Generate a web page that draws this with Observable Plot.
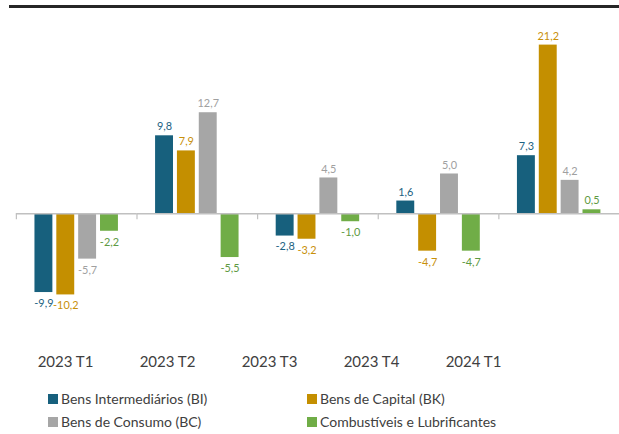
<!DOCTYPE html>
<html>
<head>
<meta charset="utf-8">
<script src="https://cdn.jsdelivr.net/npm/d3@7"></script>
<script src="https://cdn.jsdelivr.net/npm/@observablehq/plot@0.6"></script>
<style>
  html, body { margin: 0; padding: 0; background: #fff; overflow: hidden; width: 619px; height: 434px; }
  body { position: relative; font-family: Lato, "Open Sans", sans-serif; }
  #topline { position: absolute; left: 9px; top: 5px; width: 610px; height: 3px; background: #262626; }
  #chart { position: absolute; left: 0; top: 0; }
  #cats { position: absolute; left: 0; top: 342px; }
  #legend { position: absolute; left: 0; top: 386px; width: 619px; height: 46px; }
  .item { position: absolute; display: flex; align-items: center; font-size: 14px; color: #404040; white-space: nowrap; }
  .sw { width: 10px; height: 10px; margin-right: 3px; }
</style>
</head>
<body>
<div id="topline"></div>
<div id="chart"></div>
<div id="cats"></div>
<div id="legend"></div>
<script>
const groups = ["2023 T1", "2023 T2", "2023 T3", "2023 T4", "2024 T1"];
const series = ["Bens Intermediários (BI)", "Bens de Capital (BK)", "Bens de Consumo (BC)", "Combustíveis e Lubrificantes"];
const valuesBI = [-9.9, 9.8, -2.8, 1.6, 7.3];
const valuesBK = [-10.2, 7.9, -3.2, -4.7, 21.2];
const valuesBC = [-5.7, 12.7, 4.5, 5.0, 4.2];
const valuesComb = [-2.2, -5.5, -1.0, -4.7, 0.5];
const barColors = ["#17607d", "#c48f00", "#a6a6a6", "#70ad47"];
const labelColors = ["#1d6282", "#c8900a", "#a0a0a0", "#5e9a42"];

const seriesValues = [valuesBI, valuesBK, valuesBC, valuesComb];
const data = [];
groups.forEach((g, gi) => series.forEach((s, si) => data.push({group: g, series: s, si, value: seriesValues[si][gi]})));

const fmt = v => v.toFixed(1).replace(".", ",");

const chart = Plot.plot({
  width: 624,
  height: 330,
  marginTop: 22.5,
  marginBottom: 2.7,
  marginLeft: 16,
  marginRight: 0,
  style: {fontFamily: "Lato, sans-serif", background: "transparent"},
  fx: {domain: groups, paddingInner: 0, paddingOuter: 0, round: false, axis: null},
  x: {domain: series, paddingInner: 0.18, paddingOuter: 0.85, round: false, axis: null},
  y: {domain: [-14, 24], axis: null},
  color: {domain: series, range: barColors},
  marks: [
    Plot.barY(data, {fx: "group", x: "series", y: "value", fill: "series"}),
    Plot.ruleY([0], {stroke: "#c0c0c0", strokeWidth: 1.5}),
    Plot.ruleX(groups, {fx: d => d, x: null, y1: 0, y2: -0.75, dx: -121.6 / 2, stroke: "#c0c0c0", strokeWidth: 1.2}),
    Plot.text(data.filter(d => d.value >= 0), {fx: "group", x: "series", y: "value", text: d => fmt(d.value), fill: d => labelColors[d.si], dy: -9, fontSize: 11}),
    Plot.text(data.filter(d => d.value < 0), {fx: "group", x: "series", y: "value", text: d => fmt(d.value), fill: d => labelColors[d.si], dy: 11, fontSize: 11})
  ]
});
document.getElementById("chart").appendChild(chart);

const cats = Plot.plot({
  width: 619,
  height: 40,
  marginLeft: 12,
  marginRight: 94,
  marginTop: 0,
  marginBottom: 0,
  style: {fontFamily: "Lato, sans-serif", background: "transparent"},
  x: {type: "point", domain: groups, padding: 0.5, axis: null},
  marks: [
    Plot.text(groups, {x: d => d, frameAnchor: "middle", fontSize: 15, fill: "#404040"})
  ]
});
document.getElementById("cats").appendChild(cats);

const legend = document.getElementById("legend");
const legendPos = [[48, 4], [307, 4], [48, 27], [307, 27]];
series.forEach((s, i) => {
  const el = document.createElement("div");
  el.className = "item";
  el.style.left = legendPos[i][0] + "px";
  el.style.top = legendPos[i][1] + "px";
  el.innerHTML = `<span class="sw" style="background:${barColors[i]}"></span><span>${s}</span>`;
  legend.appendChild(el);
});
</script>
</body>
</html>
